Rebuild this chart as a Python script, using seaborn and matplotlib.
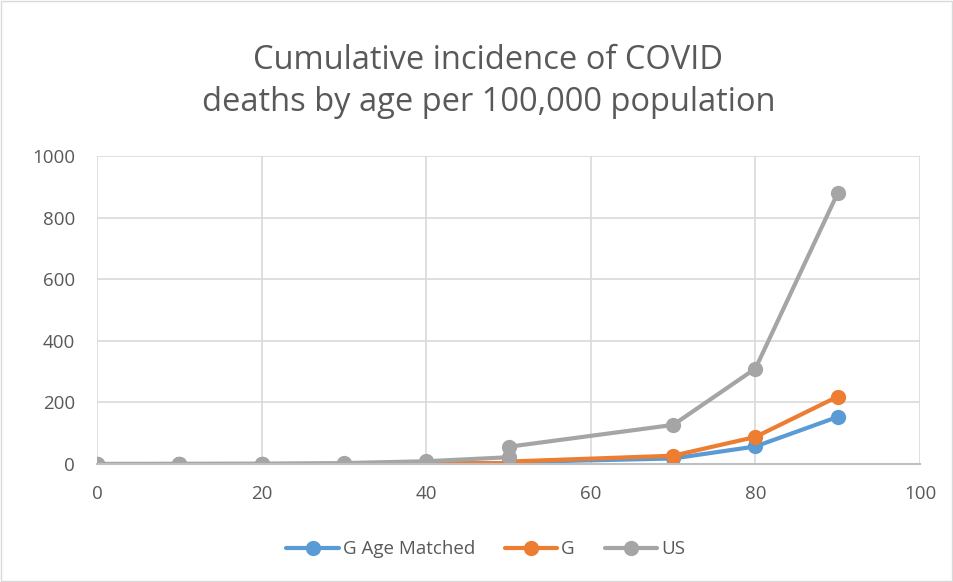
import matplotlib
matplotlib.use("Agg")
import matplotlib.pyplot as plt
import seaborn as sns
import pandas as pd
from matplotlib.patches import Rectangle

ages = [0, 10, 20, 30, 40, 50, 50, 70, 80, 90]
g_age_matched = [0, 0, 0, 0, 1, 3, 6, 18, 57, 153]
g_values = [0, 0, 0, 0, 2, 3, 8, 27, 88, 219]
us_values = [0, 0.5, 1, 3, 9, 22, 56, 127, 310, 880]
series_names = ["G Age Matched", "G", "US"]
colors = ["#5B9BD5", "#ED7D31", "#A5A5A5"]

rows = []
for name, vals in zip(series_names, [g_age_matched, g_values, us_values]):
    for i, (a, v) in enumerate(zip(ages, vals)):
        rows.append({"Age": a, "Value": v, "Series": name, "order": i})
df = pd.DataFrame(rows)

sns.set_theme(style="white")
plt.rcParams["font.family"] = ["Open Sans", "DejaVu Sans"]

fig = plt.figure(figsize=(9.54, 5.82), dpi=100)
ax = fig.add_axes([0.1017, 0.2027, 0.8627, 0.5292])

sns.lineplot(data=df, x="Age", y="Value", hue="Series", hue_order=series_names,
             palette=colors, estimator=None, sort=False, marker="o",
             markersize=11, markeredgewidth=0, linewidth=3, ax=ax)

ax.set_xlim(0, 100)
ax.set_ylim(0, 1000)
ax.set_xticks(range(0, 101, 20))
ax.set_yticks(range(0, 1001, 200))
ax.grid(True, color="#D9D9D9", linewidth=1.2)
ax.set_axisbelow(True)
for s in ["top", "right", "left"]:
    ax.spines[s].set_visible(False)
ax.spines["bottom"].set_color("#BFBFBF")
ax.spines["bottom"].set_linewidth(1.5)
ax.set_xlabel("")
ax.set_ylabel("")
ax.tick_params(axis="both", length=0, labelsize=13.5, labelcolor="#595959")
ax.tick_params(axis="x", pad=15)
ax.tick_params(axis="y", pad=16)
for lbl in ax.get_xticklabels() + ax.get_yticklabels():
    lbl.set_clip_on(False)

fig.text(0.512, 0.86, "Cumulative incidence of COVID\ndeaths by age per 100,000 population",
         ha="center", va="center", fontsize=23.5, color="#595959", linespacing=1.35)

ax.legend_.remove()
handles, labels = ax.get_legend_handles_labels()
leg = fig.legend(handles, labels, loc="center", bbox_to_anchor=(0.509, 0.056), ncol=3,
                 frameon=False, fontsize=13.5, handlelength=2.8, columnspacing=1.6,
                 handletextpad=0.2)
for t in leg.get_texts():
    t.set_color("#595959")

fig.patches.append(Rectangle((0.001, 0.001), 0.997, 0.997, transform=fig.transFigure,
                             fill=False, edgecolor="#D9D9D9", linewidth=1))

fig.savefig("out.png", dpi=100)
